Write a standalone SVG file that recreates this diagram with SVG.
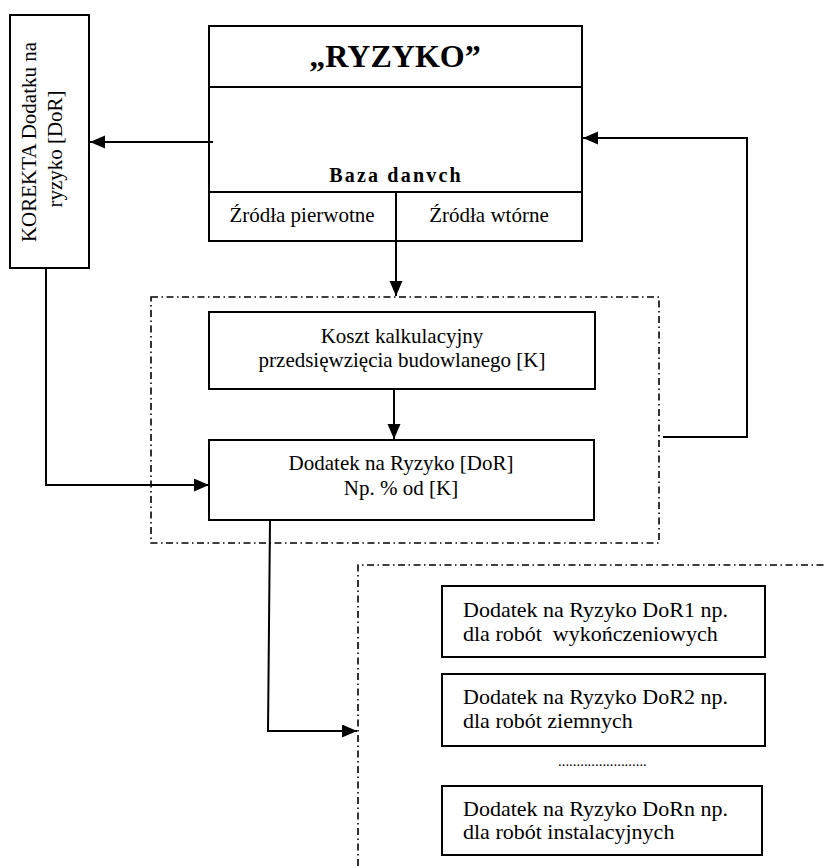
<svg xmlns="http://www.w3.org/2000/svg" width="827" height="866" viewBox="0 0 827 866">
<style>
.box{fill:#fff;stroke:#000;stroke-width:2}
.ln{fill:none;stroke:#000;stroke-width:2}
.dd{fill:none;stroke:#000;stroke-width:1.6;stroke-dasharray:7 3.5 1.5 3.5}
.t{font-family:"Liberation Serif","Times New Roman",serif;font-size:21px;fill:#000}
.c{text-anchor:middle}
.s{font-family:"Liberation Serif","Times New Roman",serif;font-size:22px;fill:#000}
</style>
<defs>
<marker id="ah" markerUnits="userSpaceOnUse" markerWidth="16" markerHeight="14" refX="15" refY="6.5" orient="auto">
<path d="M0,0 L15,6.5 L0,13 z" fill="#000"/>
</marker>
</defs>
<rect width="827" height="866" fill="#fff"/>

<g id="group-main">
<rect class="dd" x="151" y="297" width="508" height="246"/>
</g>
<g id="group-sub">
<path class="dd" d="M358,866 V565 H827"/>
</g>

<g id="ryzyko">
<rect class="box" x="209" y="26" width="373" height="215"/>
<line class="ln" x1="209" y1="87" x2="582" y2="87"/>
<line class="ln" x1="209" y1="192" x2="582" y2="192"/>
<line class="ln" x1="396" y1="192" x2="396" y2="241"/>
<text class="t c" x="395" y="67" style="font-size:32px;font-weight:bold">„RYZYKO”</text>
<text class="t c" x="396" y="182" style="font-size:20px;font-weight:bold;letter-spacing:2.2px">Baza danvch</text>
<text class="t c" x="302" y="222">Źródła pierwotne</text>
<text class="t c" x="489" y="222">Źródła wtórne</text>
</g>

<g id="korekta">
<rect class="box" x="10" y="15" width="79" height="253"/>
<text class="t c" transform="rotate(-90)" x="-142" y="36">KOREKTA Dodatku na</text>
<text class="t c" transform="rotate(-90)" x="-149" y="62">ryzyko [DoR]</text>
</g>

<g id="koszt">
<rect class="box" x="209" y="312" width="386" height="77"/>
<text class="t c" x="402" y="343">Koszt kalkulacyjny</text>
<text class="t c" x="402" y="367">przedsięwzięcia budowlanego [K]</text>
</g>

<g id="dodatek">
<rect class="box" x="209" y="440" width="385" height="80"/>
<text class="t c" x="401" y="470">Dodatek na Ryzyko [DoR]</text>
<text class="t c" x="401" y="495">Np. % od [K]</text>
</g>

<g id="dor1">
<rect class="box" x="442" y="586" width="323" height="71"/>
<text class="s" x="463" y="617">Dodatek na Ryzyko DoR1 np.</text>
<text class="s" x="463" y="641" xml:space="preserve">dla robót  wykończeniowych</text>
</g>
<g id="dor2">
<rect class="box" x="442" y="674" width="323" height="72"/>
<text class="s" x="463" y="704">Dodatek na Ryzyko DoR2 np.</text>
<text class="s" x="463" y="728">dla robót ziemnych</text>
</g>
<g id="dots">
<text class="s" x="558" y="766" style="font-size:14.8px">........................</text>
</g>
<g id="dorn">
<rect class="box" x="442" y="786" width="320" height="69"/>
<text class="s" x="463" y="816">Dodatek na Ryzyko DoRn np.</text>
<text class="s" x="463" y="839">dla robót instalacyjnych</text>
</g>

<g id="connectors">
<path class="ln" d="M213,142 H90" marker-end="url(#ah)"/>
<path class="ln" d="M663,437 H747 V138 H583" marker-end="url(#ah)"/>
<path class="ln" d="M396,241 V296" marker-end="url(#ah)"/>
<path class="ln" d="M394,389 V439" marker-end="url(#ah)"/>
<path class="ln" d="M46,268 V485 H209" marker-end="url(#ah)"/>
<path class="ln" d="M270,520 L268,731 H357" marker-end="url(#ah)"/>
</g>
</svg>
